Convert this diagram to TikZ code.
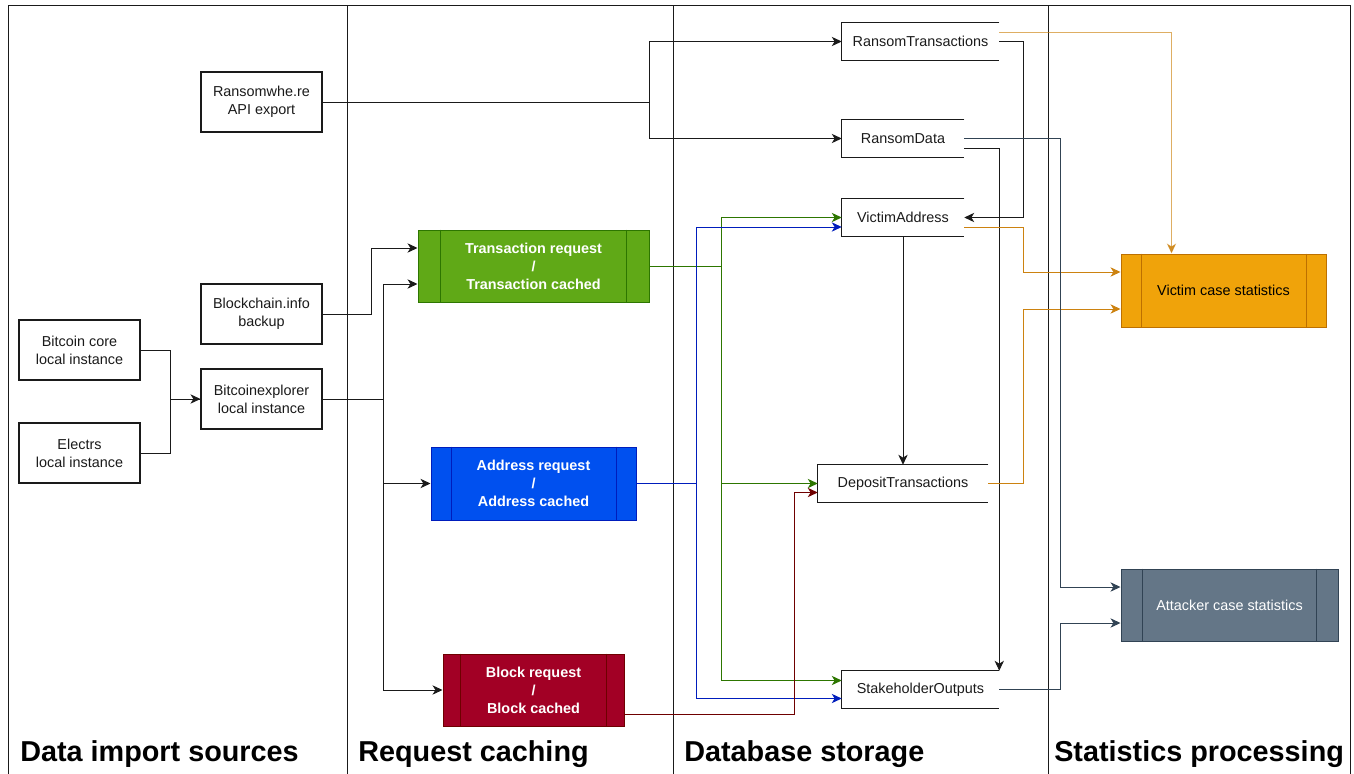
\documentclass[tikz,border=0pt]{standalone}
\usepackage{fontspec}
\setmainfont{Liberation Sans}
\usetikzlibrary{arrows.meta,calc}
\definecolor{gfill}{HTML}{60A917}\definecolor{gline}{HTML}{2D7600}
\definecolor{bfill}{HTML}{0050EF}\definecolor{bline}{HTML}{001DBC}
\definecolor{rfill}{HTML}{A20025}\definecolor{rline}{HTML}{6F0000}
\definecolor{ofill}{HTML}{F0A30A}\definecolor{oline}{HTML}{BD7000}\definecolor{oedge}{HTML}{CC8210}
\definecolor{sfill}{HTML}{647687}\definecolor{sline}{HTML}{314354}
\definecolor{txt}{HTML}{1A1A1A}
\newcommand\pbars[3]{%
  \draw[draw=#3, line width=0.75pt] ($(#1.north west)+(#2,0)$) -- ($(#1.south west)+(#2,0)$)
    ($(#1.north east)+(-#2,0)$) -- ($(#1.south east)+(-#2,0)$);}
\newcommand\tbl[1]{%
  \draw[line width=0.9pt, draw=txt] (#1.north east) -- (#1.north west) -- (#1.south west) -- (#1.south east);}
\begin{document}
\begin{tikzpicture}[x=0.75pt,y=-0.75pt,
  sz/.style 2 args={minimum width=#1*0.75pt, minimum height=#2*0.75pt, inner sep=0pt},
  small/.style={font=\fontsize{10.8}{13.5}\selectfont, align=center, text=txt},
  srcbox/.style={small, draw=txt, line width=0.8pt, fill=white},
  proc/.style={small, line width=0.75pt, font=\bfseries\fontsize{10.8}{13.5}\selectfont, text=white},
  dbt/.style={small},
  title/.style={font=\bfseries\fontsize{21.6}{26}\selectfont, anchor=base west, inner sep=0pt},
  tip/.style={-{Stealth[length=7.5pt,width=7pt,inset=2.2pt]}},
  arr/.style={tip, draw=txt, line width=0.7pt},
  garr/.style={tip, draw=gline, line width=0.7pt},
  barr/.style={tip, draw=bline, line width=0.7pt},
  rarr/.style={tip, draw=rline, line width=0.7pt},
  oarr/.style={tip, draw=oedge, line width=0.7pt},
  sarr/.style={tip, draw=sline, line width=0.7pt},
  lane/.style={draw=txt, line width=0.75pt}]
\useasboundingbox (0,0) rectangle (1354,774);
% lanes
\draw[lane] (8,774) -- (8,6) -- (1350,6) -- (1350,774);
\draw[lane] (347,6) -- (347,774);
\draw[lane] (673,6) -- (673,774);
\draw[lane] (1048,6) -- (1048,774);
\node[title] (t1) at (20,761) {Data import sources};
\node[title] (t2) at (358,761) {Request caching};
\node[title] (t3) at (684,761) {Database storage};
\node[title] (t4) at (1054,761) {Statistics processing};
% source boxes
\node[srcbox, sz={121}{60}] (rw) at (261.5,102) {Ransomwhe.re\\API export};
\node[srcbox, sz={121}{60}] (bci) at (261.5,314) {Blockchain.info\\backup};
\node[srcbox, sz={121}{60}] (bcore) at (79.5,350) {Bitcoin core\\local instance};
\node[srcbox, sz={121}{60}] (electrs) at (79.5,453) {Electrs\\local instance};
\node[srcbox, sz={121}{60}] (bex) at (261.5,399) {Bitcoinexplorer\\local instance};
% process boxes
\node[proc, fill=gfill, draw=gline, sz={231}{72}] (tx) at (533.5,266) {Transaction request\\/\\Transaction cached};
\pbars{tx}{23.1}{gline}
\node[proc, fill=bfill, draw=bline, sz={205}{73}] (addr) at (533.5,483.5) {Address request\\/\\Address cached};
\pbars{addr}{20.5}{bline}
\node[proc, fill=rfill, draw=rline, sz={181}{72}] (blk) at (533.5,690) {Block request\\/\\Block cached};
\pbars{blk}{18.1}{rline}
\node[small, fill=ofill, draw=oline, line width=0.75pt, text=black, sz={205}{73}] (vcs) at (1223.5,290.5) {Victim case statistics};
\pbars{vcs}{20.5}{oline}
\node[small, fill=sfill, draw=sline, line width=0.75pt, text=white, sz={217}{72}] (acs) at (1229.5,605) {Attacker case statistics};
\pbars{acs}{21.7}{sline}
% database tables
\node[dbt, sz={157}{37}] (rt) at (920.5,41.5) {RansomTransactions};
\tbl{rt}
\node[dbt, sz={122}{37}] (rd) at (903,138.5) {RansomData};
\tbl{rd}
\node[dbt, sz={122}{37}] (va) at (903,217.5) {VictimAddress};
\tbl{va}
\node[dbt, sz={170}{37}] (dt) at (903,483.5) {DepositTransactions};
\tbl{dt}
\node[dbt, sz={157}{37}] (so) at (920.5,689.5) {StakeholderOutputs};
\tbl{so}
% source connectors
\draw[arr] (rw.east) -- ++(327,0) |- (rt.west);
\draw[arr] (rw.east) -- ++(327,0) |- (rd.west);
\draw[arr] (bci.east) -- ++(49,0) |- ($(tx.west)+(0,-18)$);
\draw[arr] (bcore.east) -- ++(30,0) |- (bex.west);
\draw[draw=txt, line width=0.7pt] (electrs.east) -- ++(30,0) |- (bex.west);
\draw[arr] (bex.east) -- ++(61,0) |- ($(tx.west)+(0,18)$);
\draw[arr] (bex.east) -- ++(61,0) |- (addr.west);
\draw[arr] (bex.east) -- ++(61,0) |- (blk.west);
% caching to database
\draw[garr] (tx.east) -- ++(72,0) |- (va.west);
\draw[garr] (tx.east) -- ++(72,0) |- (dt.west);
\draw[garr] (tx.east) -- ++(72,0) |- ($(so.west)+(0,-9)$);
\draw[barr] (addr.east) -- ++(60,0) |- ($(va.west)+(0,9.5)$);
\draw[barr] (addr.east) -- ++(60,0) |- ($(so.west)+(0,9)$);
\draw[rarr] ($(blk.east)+(0,24)$) -- ++(170,0) |- ($(dt.west)+(0,9)$);
% database internal
\draw[arr] (rt.east) -- ++(24,0) |- (va.east);
\draw[arr] ($(rd.east)+(0,9.5)$) -- ++(35,0) -- (so.north east);
\draw[arr] (va.south) -- (dt.north);
% statistics
\draw[oarr, draw opacity=0.65, fill opacity=0.9] ($(rt.east)+(0,-9.5)$) -| ($(vcs.north west)+(51,0)$);
\draw[oarr] ($(va.east)+(0,9.5)$) -- ++(59,0) |- ($(vcs.west)+(0,-18.5)$);
\draw[oarr] (dt.east) -- ++(35,0) |- ($(vcs.west)+(0,18.5)$);
\draw[sarr] (rd.east) -- ++(96,0) |- ($(acs.west)+(0,-18)$);
\draw[sarr] (so.east) -- ++(61,0) |- ($(acs.west)+(0,18)$);
\end{tikzpicture}
\end{document}
